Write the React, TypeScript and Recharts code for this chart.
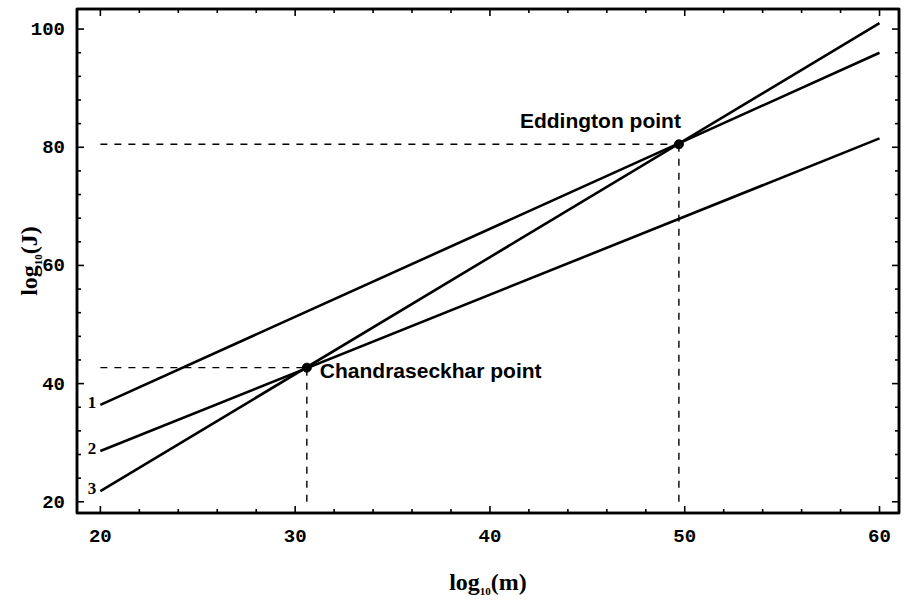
import React from 'react';
import {
  LineChart,
  Line,
  XAxis,
  YAxis,
  ReferenceLine,
  ReferenceDot,
  ReferenceArea,
  LabelList,
} from 'recharts';

// ---- data ----
const xEnds = [20, 60];
const line1 = [36.4, 96.0];
const line2 = [28.6, 81.5];
const line3 = [21.8, 101.0];
const lineNames = ['1', '2', '3'];

const xTicks = [20, 22, 24, 26, 28, 30, 32, 34, 36, 38, 40, 42, 44, 46, 48, 50, 52, 54, 56, 58, 60];
const yTicks = [20, 24, 28, 32, 36, 40, 44, 48, 52, 56, 60, 64, 68, 72, 76, 80, 84, 88, 92, 96, 100];
const xDomain = [18.8, 61.0];
const yDomain = [18.1, 103.4];

const chandraPoint = { x: 30.6, y: 42.7, label: 'Chandraseckhar point' };
const eddingtonPoint = { x: 49.7, y: 80.5, label: 'Eddington point' };

const toRows = (ys: number[]) => xEnds.map((x, i) => ({ x, y: ys[i] }));
const seriesList = [line1, line2, line3].map((ys, i) => ({ name: lineNames[i], data: toRows(ys) }));

const TICK_FONT = '"Liberation Mono", "DejaVu Sans Mono", monospace';
const SERIF = '"Liberation Serif", "DejaVu Serif", serif';
const SANS = '"Liberation Sans", Arial, sans-serif';

const BottomTick = (props: any) => {
  const { x, y, payload } = props;
  const major = payload.value % 10 === 0;
  return (
    <g>
      <line x1={x} x2={x} y1={y} y2={y - (major ? 7 : 4)} stroke="#000" strokeWidth={1.6} />
      {major && (
        <text x={x} y={y + 29} textAnchor="middle" fontFamily={TICK_FONT} fontWeight="bold" fontSize={19} fill="#000">
          {payload.value}
        </text>
      )}
    </g>
  );
};

const TopTick = (props: any) => {
  const { x, y, payload } = props;
  const major = payload.value % 10 === 0;
  return <line x1={x} x2={x} y1={y} y2={y + (major ? 7 : 4)} stroke="#000" strokeWidth={1.6} />;
};

const LeftTick = (props: any) => {
  const { x, y, payload } = props;
  const major = payload.value % 20 === 0;
  return (
    <g>
      <line x1={x} x2={x + (major ? 7 : 4)} y1={y} y2={y} stroke="#000" strokeWidth={1.6} />
      {major && (
        <text x={x - 12} y={y + 6} textAnchor="end" fontFamily={TICK_FONT} fontWeight="bold" fontSize={19} fill="#000">
          {payload.value}
        </text>
      )}
    </g>
  );
};

const RightTick = (props: any) => {
  const { x, y, payload } = props;
  const major = payload.value % 20 === 0;
  return <line x1={x} x2={x - (major ? 7 : 4)} y1={y} y2={y} stroke="#000" strokeWidth={1.6} />;
};

const XTitle = (props: any) => {
  const vb = props.viewBox || {};
  const cx = vb.x + vb.width / 2;
  const cy = vb.y + 77;
  return (
    <text x={cx} y={cy} textAnchor="middle" fontFamily={SERIF} fontWeight="bold" fontSize={24} fill="#000">
      log
      <tspan fontSize={11} dy={5}>10</tspan>
      <tspan dy={-5}>(m)</tspan>
    </text>
  );
};

const YTitle = (props: any) => {
  const vb = props.viewBox || {};
  const cx = vb.x + 37;
  const cy = vb.y + vb.height / 2;
  return (
    <text
      x={cx}
      y={cy}
      transform={`rotate(-90 ${cx} ${cy})`}
      textAnchor="middle"
      fontFamily={SERIF}
      fontWeight="bold"
      fontSize={24}
      fill="#000"
    >
      log
      <tspan fontSize={11} dy={5}>10</tspan>
      <tspan dy={-5}>(J)</tspan>
    </text>
  );
};

const StartLabel = (name: string) => (props: any) => {
  const { x, y, index } = props;
  if (index !== 0) return null;
  return (
    <text x={x - 4} y={y + 3} textAnchor="end" fontFamily={SERIF} fontWeight="bold" fontSize={17} fill="#000">
      {name}
    </text>
  );
};

const ChandraLabel = (props: any) => {
  const vb = props.viewBox || {};
  const px = vb.x + (vb.width || 0) / 2;
  const py = vb.y + (vb.height || 0) / 2;
  return (
    <text x={px + 13} y={py + 10} fontFamily={SANS} fontWeight="bold" fontSize={21} fill="#000">
      {chandraPoint.label}
    </text>
  );
};

const EddLabel = (props: any) => {
  const vb = props.viewBox || {};
  const px = vb.x + (vb.width || 0) / 2;
  const py = vb.y + (vb.height || 0) / 2;
  return (
    <text x={px + 2} y={py - 16} textAnchor="end" fontFamily={SANS} fontWeight="bold" fontSize={21} fill="#000">
      {eddingtonPoint.label}
    </text>
  );
};

const dashProps = { stroke: '#000', strokeWidth: 1.4, strokeDasharray: '7 7', ifOverflow: 'visible' as const };

export default function App() {
  return (
    <div style={{ position: 'absolute', left: 0, top: 0, width: 907, height: 603, background: '#fff' }}>
      <LineChart width={907} height={603} margin={{ top: 8, right: 7, left: 0, bottom: 0 }}>
        <XAxis
          xAxisId="b"
          type="number"
          dataKey="x"
          orientation="bottom"
          domain={xDomain}
          ticks={xTicks}
          interval={0}
          allowDataOverflow
          height={90}
          tickSize={0}
          tickMargin={0}
          tickLine={false}
          axisLine={{ stroke: '#000', strokeWidth: 2.5 }}
          tick={<BottomTick />}
          label={XTitle}
        />
        <XAxis
          xAxisId="t"
          type="number"
          dataKey="x"
          orientation="top"
          domain={xDomain}
          ticks={xTicks}
          interval={0}
          allowDataOverflow
          height={1}
          tickSize={0}
          tickMargin={0}
          tickLine={false}
          axisLine={{ stroke: '#000', strokeWidth: 2.5 }}
          tick={<TopTick />}
        />
        <YAxis
          yAxisId="l"
          type="number"
          orientation="left"
          domain={yDomain}
          ticks={yTicks}
          interval={0}
          allowDataOverflow
          width={77}
          tickSize={0}
          tickMargin={0}
          tickLine={false}
          axisLine={{ stroke: '#000', strokeWidth: 2.5 }}
          tick={<LeftTick />}
          label={YTitle}
        />
        <YAxis
          yAxisId="r"
          type="number"
          orientation="right"
          domain={yDomain}
          ticks={yTicks}
          interval={0}
          allowDataOverflow
          width={1}
          tickSize={0}
          tickMargin={0}
          tickLine={false}
          axisLine={{ stroke: '#000', strokeWidth: 2.5 }}
          tick={<RightTick />}
        />

        <ReferenceArea
          xAxisId="b"
          yAxisId="l"
          x1={xDomain[0]}
          x2={xDomain[1]}
          y1={yDomain[0]}
          y2={yDomain[1]}
          fill="none"
          fillOpacity={0}
          stroke="#000"
          strokeWidth={2.5}
          ifOverflow="visible"
        />

        <ReferenceLine
          xAxisId="b"
          yAxisId="l"
          segment={[{ x: xEnds[0], y: chandraPoint.y }, { x: chandraPoint.x, y: chandraPoint.y }]}
          {...dashProps}
        />
        <ReferenceLine
          xAxisId="b"
          yAxisId="l"
          segment={[{ x: chandraPoint.x, y: yTicks[0] }, { x: chandraPoint.x, y: chandraPoint.y }]}
          {...dashProps}
        />
        <ReferenceLine
          xAxisId="b"
          yAxisId="l"
          segment={[{ x: xEnds[0], y: eddingtonPoint.y }, { x: eddingtonPoint.x, y: eddingtonPoint.y }]}
          {...dashProps}
        />
        <ReferenceLine
          xAxisId="b"
          yAxisId="l"
          segment={[{ x: eddingtonPoint.x, y: yTicks[0] }, { x: eddingtonPoint.x, y: eddingtonPoint.y }]}
          {...dashProps}
        />

        {seriesList.map((s) => (
          <Line
            key={s.name}
            xAxisId="b"
            yAxisId="l"
            data={s.data}
            dataKey="y"
            type="linear"
            stroke="#000"
            strokeWidth={2.6}
            dot={false}
            activeDot={false}
            isAnimationActive={false}
          >
            <LabelList dataKey="y" content={StartLabel(s.name)} />
          </Line>
        ))}

        <ReferenceDot
          xAxisId="b"
          yAxisId="l"
          x={chandraPoint.x}
          y={chandraPoint.y}
          r={4.5}
          fill="#000"
          stroke="#000"
          label={ChandraLabel}
        />
        <ReferenceDot
          xAxisId="b"
          yAxisId="l"
          x={eddingtonPoint.x}
          y={eddingtonPoint.y}
          r={4.5}
          fill="#000"
          stroke="#000"
          label={EddLabel}
        />
      </LineChart>
    </div>
  );
}
